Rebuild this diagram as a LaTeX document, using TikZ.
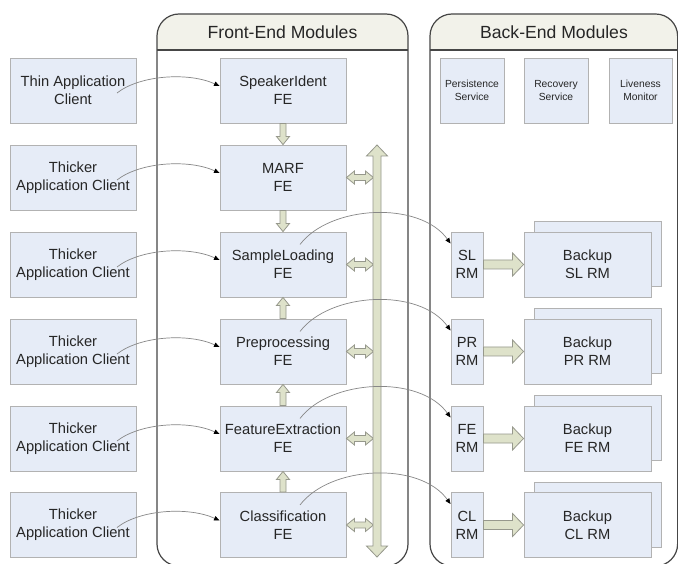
\documentclass[tikz,border=0pt]{standalone}
\usepackage{fontspec}
\setmainfont{Liberation Sans}
\usetikzlibrary{calc,arrows.meta}
\definecolor{boxblue}{RGB}{230,236,247}
\definecolor{boxline}{RGB}{178,178,178}
\definecolor{hdrfill}{RGB}{242,242,234}
\definecolor{contline}{RGB}{70,70,70}
\definecolor{barfill}{RGB}{222,226,202}
\definecolor{barline}{RGB}{150,152,140}
\definecolor{curveline}{RGB}{135,135,135}
\tikzset{
  box/.style={draw=boxline, fill=boxblue, line width=0.9pt, inner sep=0pt, align=center,
    font=\fontsize{14.7}{18}\selectfont, text=black!85},
  bigbox/.style={box, minimum width=126pt, minimum height=65pt},
  svcbox/.style={box, minimum width=64pt, minimum height=65pt, font=\fontsize{10.3}{13}\selectfont},
  rmbox/.style={box, minimum width=32pt, minimum height=65pt},
  container/.style={draw=contline, line width=1.2pt},
  titletext/.style={inner sep=0pt, font=\fontsize{17.6}{20}\selectfont, text=black!85},
  blockarrow/.style={fill=barfill, draw=barline, line width=0.8pt, line join=miter},
  link/.style={draw=curveline, line width=0.7pt, -{Triangle[length=5.5pt,width=4.5pt,color=black]}},
}
% single block arrow: #1 start, #2 end, #3 half shaft, #4 half head, #5 head length
\newcommand\blockarr[5]{%
  \coordinate (ba-h) at ($(#2)!#5!(#1)$);
  \filldraw[blockarrow] ($(#1)!#3!90:(#2)$) -- ($(ba-h)!#3!90:(#2)$) -- ($(ba-h)!#4!90:(#2)$)
    -- (#2) -- ($(ba-h)!#4!-90:(#2)$) -- ($(ba-h)!#3!-90:(#2)$) -- ($(#1)!#3!-90:(#2)$) -- cycle;
}
% double block arrow
\newcommand\dblockarr[5]{%
  \coordinate (bb-a) at ($(#1)!#5!(#2)$);
  \coordinate (bb-b) at ($(#2)!#5!(#1)$);
  \filldraw[blockarrow] (#1) -- ($(bb-a)!#4!90:(#2)$) -- ($(bb-a)!#3!90:(#2)$)
    -- ($(bb-b)!#3!90:(#2)$) -- ($(bb-b)!#4!90:(#2)$) -- (#2)
    -- ($(bb-b)!#4!-90:(#2)$) -- ($(bb-b)!#3!-90:(#2)$)
    -- ($(bb-a)!#3!-90:(#2)$) -- ($(bb-a)!#4!-90:(#2)$) -- cycle;
}
\begin{document}
\begin{tikzpicture}[x=1pt,y=-1pt]
\useasboundingbox (0,0) rectangle (678,564);
\fill[white] (0,0) rectangle (678,564);

% containers
\begin{scope}
  \clip (150,10) rectangle (415,50);
  \fill[hdrfill, rounded corners=22pt] (157,14) rectangle (408,566);
\end{scope}
\begin{scope}
  \clip (425,10) rectangle (690,50);
  \fill[hdrfill, rounded corners=22pt] (430,14) rectangle (678,566);
\end{scope}
\draw[container] (157,50) -- (408,50);
\draw[container] (430,50) -- (678,50);
\draw[container, rounded corners=22pt] (157,14) rectangle (408,566);
\draw[container, rounded corners=22pt] (430,14) rectangle (677.6,566);
\node[titletext] (feT) at (282.5,32) {Front-End Modules};
\node[titletext] (beT) at (554,32) {Back-End Modules};

% clients
\node[bigbox] (c1) at (73,90.5) {Thin Application\\Client};
\node[bigbox] (c2) at (73,177.5) {Thicker\\Application Client};
\node[bigbox] (c3) at (73,264.5) {Thicker\\Application Client};
\node[bigbox] (c4) at (73,351.5) {Thicker\\Application Client};
\node[bigbox] (c5) at (73,438.5) {Thicker\\Application Client};
\node[bigbox] (c6) at (73,525) {Thicker\\Application Client};

% front-end modules
\node[bigbox] (f1) at (283,90.5) {SpeakerIdent\\FE};
\node[bigbox] (f2) at (283,177.5) {MARF\\FE};
\node[bigbox] (f3) at (283,264.5) {SampleLoading\\FE};
\node[bigbox] (f4) at (283,351.5) {Preprocessing\\FE};
\node[bigbox] (f5) at (283,438.5) {FeatureExtraction\\FE};
\node[bigbox] (f6) at (283,525) {Classification\\FE};

% back-end services
\node[svcbox] (s1) at (472,90.5) {Persistence\\Service};
\node[svcbox] (s2) at (556,90.5) {Recovery\\Service};
\node[svcbox, minimum width=63pt] (s3) at (640.5,90.5) {Liveness\\Monitor};

% RMs and backups
\foreach \n/\y/\t in {3/264.5/SL,4/351.5/PR,5/438.5/FE,6/525/CL}{
  \node[bigbox, minimum width=127pt] (bk\n) at (598,\y-10.5) {};
  \node[bigbox, minimum width=127pt] (b\n) at (587.5,\y) {Backup\\\t\ RM};
  \node[rmbox] (r\n) at (467,\y) {\t\\RM};
}

% vertical block arrows between FE modules
\blockarr{f1.south}{f2.north}{3pt}{6.5pt}{8pt}
\blockarr{f2.south}{f3.north}{3pt}{6.5pt}{8pt}
\blockarr{f4.north}{f3.south}{3pt}{6.5pt}{8pt}
\blockarr{f5.north}{f4.south}{3pt}{6.5pt}{8pt}
\blockarr{f6.north}{f5.south}{3pt}{6.5pt}{8pt}

% bus
\coordinate (busTop) at (377,145);
\coordinate (busBot) at (377,557);
\foreach \n in {2,3,4,5,6}{
  \coordinate (bus\n) at ($(f\n.east)+(27,0)$);
  \dblockarr{f\n.east}{bus\n}{3pt}{6.5pt}{8pt}
}
\dblockarr{busBot}{busTop}{4pt}{10.5pt}{11pt}

% RM -> backup arrows
\foreach \n in {3,4,5,6}{
  \blockarr{r\n.east}{b\n.west}{4.5pt}{11.5pt}{11pt}
}

% client -> FE links
\foreach \n in {1,...,6}{
  \coordinate (cs\n) at ($(c\n.center)+(44,2.5)$);
  \coordinate (ce\n) at ($(f\n.west)+(0,-4.5)$);
  \draw[link] (cs\n) .. controls +(23,-18) and +(-31,-14) .. (ce\n);
}

% FE -> RM links
\foreach \n in {3,4,5,6}{
  \coordinate (fs\n) at ($(f\n.center)+(17,-20)$);
  \coordinate (fe\n) at ($(r\n.west)+(0,-21)$);
  \draw[link] (fs\n) .. controls +(30,-39.5) and +(-31,-43) .. (fe\n);
}
\end{tikzpicture}
\end{document}
